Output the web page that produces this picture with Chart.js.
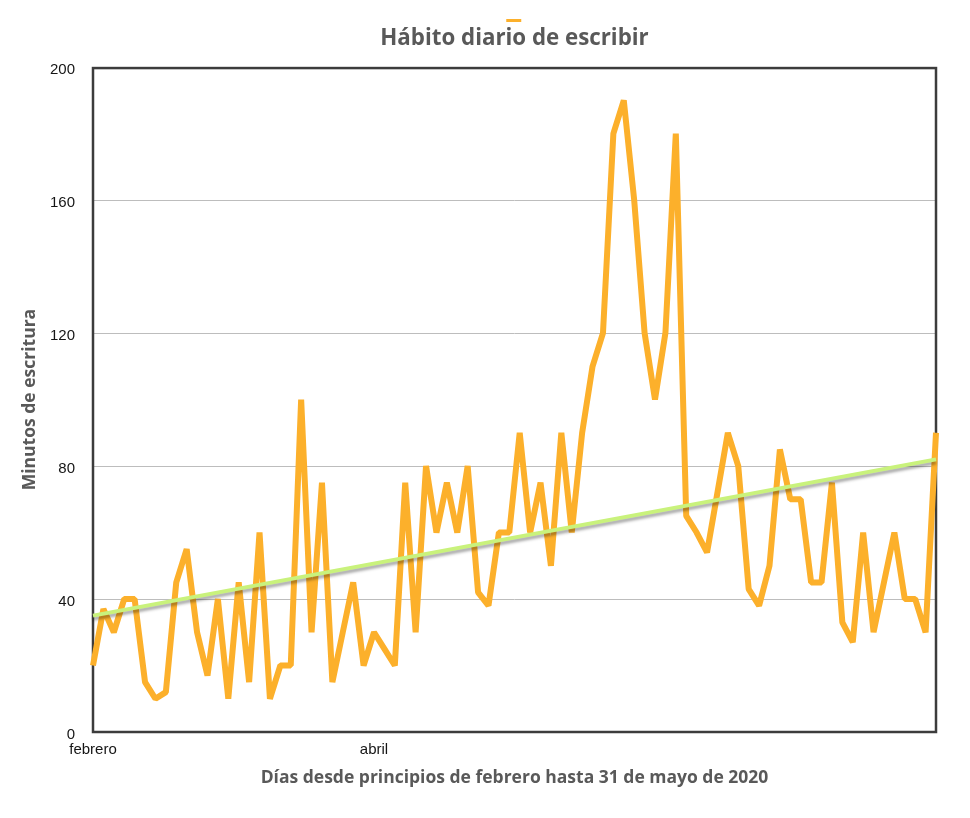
<!DOCTYPE html>
<html>
<head>
<meta charset="utf-8">
<script src="https://cdn.jsdelivr.net/npm/chart.js@4.4.1/dist/chart.umd.min.js"></script>
<style>
  html, body { margin: 0; padding: 0; background: #ffffff; }
  #wrap { width: 970px; height: 818px; position: relative; }
</style>
</head>
<body>
<div id="wrap"><canvas id="c"></canvas></div>
<script>
// ---- Data ----
const minutes = [
  20, 37, 30, 40, 40, 15, 10, 12, 45, 55,
  30, 17, 40, 10, 45, 15, 60, 10, 20, 20,
  100, 30, 75, 15, 30, 45, 20, 30, 25, 20,
  75, 30, 80, 60, 75, 60, 80, 42, 38, 60,
  60, 90, 60, 75, 50, 90, 60, 90, 110, 120,
  180, 190, 160, 120, 100, 120, 180, 65, 60, 54,
  72, 90, 80, 43, 38, 50, 85, 70, 70, 45,
  45, 75, 33, 27, 60, 30, 45, 60, 40, 40,
  30, 90
];
const trendEnds = [35, 82];            // trend line value at first and last day
const monthLabels = ['febrero', 'abril'];
const monthLabelIndex = [0, 27];
const yTickValues = [0, 40, 80, 120, 160, 200];

const chartTitle = 'Hábito diario de escribir';
const xTitle = 'Días desde principios de febrero hasta 31 de mayo de 2020';
const yTitle = 'Minutos de escritura';

// ---- Derived structures for the library ----
const categories = minutes.map((_, i) => {
  const k = monthLabelIndex.indexOf(i);
  return k >= 0 ? monthLabels[k] : '';
});
const lastIdx = categories.length - 1;
const trendData = categories.map((_, i) => i === 0 ? trendEnds[0] : (i === lastIdx ? trendEnds[1] : null));

const ORANGE = '#FCB02B';
const GREEN = '#C9F27C';
const GREY_TEXT = '#595959';

const framePlugin = {
  id: 'frame',
  beforeDatasetsDraw(chart) {
    const { ctx, chartArea: a } = chart;
    ctx.save();
    ctx.strokeStyle = '#3c3c3c';
    ctx.lineWidth = 2.5;
    ctx.strokeRect(a.left, a.top + 1, a.right - a.left, a.bottom - a.top - 1);
    ctx.restore();
  }
};

const shadowPlugin = {
  id: 'trendShadow',
  beforeDatasetDraw(chart, args) {
    if (args.index === 0) {
      const c = chart.ctx;
      c.save();
      c.shadowColor = 'rgba(0,0,0,0.35)';
      c.shadowBlur = 3;
      c.shadowOffsetY = 3;
    }
  },
  afterDatasetDraw(chart, args) {
    if (args.index === 0) chart.ctx.restore();
  }
};

new Chart(document.getElementById('c'), {
  type: 'line',
  data: {
    labels: categories,
    datasets: [
      {
        label: 'Tendencia',
        data: trendData,
        spanGaps: true,
        borderColor: GREEN,
        backgroundColor: GREEN,
        borderWidth: 4,
        pointRadius: 0,
        tension: 0,
        fill: false
      },
      {
        label: 'Minutos',
        data: minutes,
        borderColor: ORANGE,
        backgroundColor: ORANGE,
        borderWidth: 6,
        pointRadius: 0,
        tension: 0,
        fill: false,
        borderJoinStyle: 'bevel'
      }
    ]
  },
  options: {
    responsive: true,
    maintainAspectRatio: false,
    animation: false,
    layout: { padding: { top: 0, left: 0, right: 34, bottom: 0 } },
    plugins: {
      legend: {
        display: true,
        position: 'top',
        fullSize: false,
        weight: 3000,
        labels: {
          boxWidth: 15,
          boxHeight: 3,
          padding: 19,
          font: { size: 3 },
          generateLabels(chart) {
            const items = Chart.defaults.plugins.legend.labels.generateLabels(chart);
            return items.filter(it => it.datasetIndex === 1).map(it => Object.assign({}, it, {
              text: '', lineWidth: 0, fillStyle: ORANGE, strokeStyle: 'rgba(0,0,0,0)'
            }));
          }
        }
      },
      title: {
        display: true,
        text: chartTitle,
        fullSize: false,
        color: GREY_TEXT,
        font: { family: "'Open Sans', sans-serif", size: 22.3, weight: 'bold' },
        padding: { top: -6.5, bottom: 14.8 }
      },
      tooltip: { enabled: false }
    },
    scales: {
      x: {
        type: 'category',
        offset: false,
        grid: { display: false, drawTicks: false },
        border: { display: false },
        ticks: {
          autoSkip: false, maxRotation: 0, minRotation: 0, padding: 9,
          color: '#151515',
          font: { family: "'Liberation Sans', Arial, sans-serif", size: 15 }
        },
        title: {
          display: true, text: xTitle, color: GREY_TEXT,
          font: { family: "'Open Sans', sans-serif", size: 17.5, weight: 'bold' },
          padding: { top: 8, bottom: 29.5 }
        },
        afterFit(s) { s.height = 86; }
      },
      y: {
        min: yTickValues[0],
        max: yTickValues[yTickValues.length - 1],
        afterBuildTicks(s) { s.ticks = yTickValues.map(v => ({ value: v })); },
        grid: {
          drawTicks: false,
          color: '#bdbdbd',
          lineWidth: (ctx) => (ctx.tick && (ctx.tick.value === yTickValues[0] || ctx.tick.value === yTickValues[yTickValues.length - 1])) ? 0 : 1
        },
        border: { display: false },
        ticks: {
          padding: 18,
          labelOffset: 2.5,
          color: '#151515',
          font: { family: "'Liberation Sans', Arial, sans-serif", size: 15 }
        },
        title: {
          display: true, text: yTitle, color: GREY_TEXT,
          font: { family: "'Open Sans', sans-serif", size: 17.5, weight: 'bold' },
          padding: { top: 19.5, bottom: 0 }
        },
        afterFit(s) { s.width = 93; }
      }
    }
  },
  plugins: [framePlugin, shadowPlugin]
});
</script>
</body>
</html>
